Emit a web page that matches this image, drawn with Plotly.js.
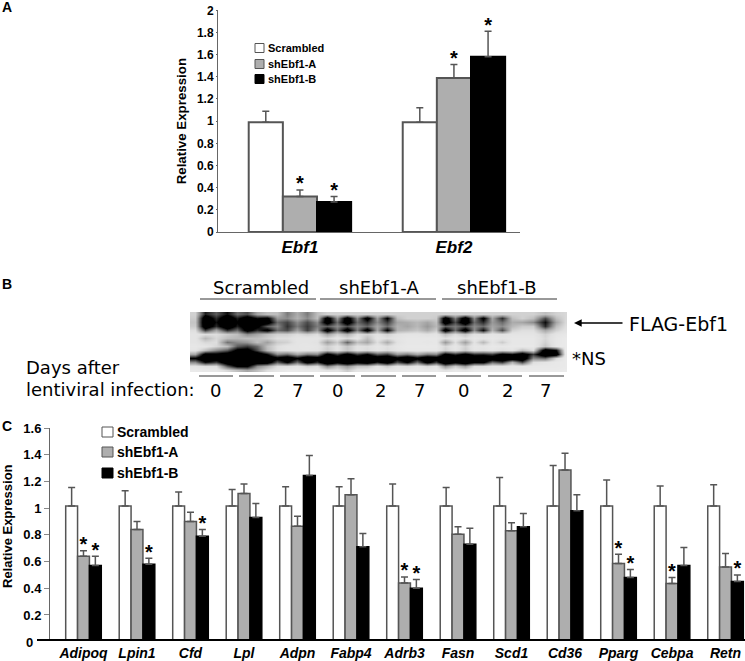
<!DOCTYPE html>
<html>
<head>
<meta charset="utf-8">
<script src="https://cdn.plot.ly/plotly-3.0.1.min.js"></script>
<style>
    html, body { margin: 0; padding: 0; background: #fff; }
    #figure { width: 745px; height: 661px; }
</style>
</head>
<body>
<div id="figure"></div>
<script>
const seriesNames = ['Scrambled', 'shEbf1-A', 'shEbf1-B'];

// Panel A: relative expression of Ebf1 and Ebf2
const genesA = ['Ebf1', 'Ebf2'];
const scrambledA = [0.99, 0.99];
const shAA = [0.32, 1.39];
const shBA = [0.27, 1.58];
const scrambledAErr = [0.10, 0.13];
const shAAErr = [0.06, 0.12];
const shBAErr = [0.05, 0.23];
const shAAStars = [0, 1];
const shBAStars = [0, 1];
const tickValsA = [0, 0.2, 0.4, 0.6, 0.8, 1, 1.2, 1.4, 1.6, 1.8, 2];

// Panel C: adipocyte genes
const genesC = ['Adipoq', 'Lpin1', 'Cfd', 'Lpl', 'Adpn', 'Fabp4', 'Adrb3',
                'Fasn', 'Scd1', 'Cd36', 'Pparg', 'Cebpa', 'Retn'];
const scrambledC = [1.015, 1.015, 1.015, 1.015, 1.015, 1.015, 1.015,
                    1.015, 1.015, 1.015, 1.015, 1.015, 1.015];
const shAC = [0.64, 0.84, 0.90, 1.11, 0.865, 1.10, 0.44,
              0.805, 0.83, 1.285, 0.585, 0.435, 0.56];
const shBC = [0.57, 0.58, 0.79, 0.93, 1.245, 0.71, 0.40,
              0.73, 0.86, 0.98, 0.48, 0.57, 0.45];
const scrambledCErr = [0.14, 0.115, 0.105, 0.125, 0.145, 0.145, 0.165,
                       0.14, 0.215, 0.305, 0.195, 0.15, 0.16];
const shACErr = [0.04, 0.06, 0.07, 0.07, 0.075, 0.12, 0.045,
                 0.055, 0.06, 0.125, 0.07, 0.045, 0.10];
const shBCErr = [0.07, 0.045, 0.05, 0.105, 0.15, 0.10, 0.065,
                 0.12, 0.10, 0.12, 0.06, 0.135, 0.05];
const shACStars = [0, 6, 10, 11];
const shBCStars = [0, 1, 2, 6, 10, 12];
const tickValsC = [0.2, 0.4, 0.6, 0.8, 1, 1.2, 1.4, 1.6];

// Panel B: the blot, read as gray levels (0 black, 255 white) down the gel
const blotGroups = ['Scrambled', 'shEbf1-A', 'shEbf1-B'];
const blotDays = ['0', '2', '7', '0', '2', '7', '0', '2', '7'];
const blotColumns = [195, 205, 216, 227, 237, 247, 257, 267, 277, 287, 297, 307, 317,
                     327, 337, 347, 357, 367, 377, 387, 397, 407, 417, 427, 436, 445,
                     455, 465, 474, 483, 492, 502, 512, 522, 533, 545, 556, 565];
const blotRows = [
    [205, 80,120, 70,130,110,170,190,190,140,175,140,190,205,205,205,205,205,205,205,205,205,205,205,205,205,205,205,205,205,205,205,205,205,205,190,205,210],
    [200, 15, 90, 15, 80, 25, 70, 50,160,150,180,150,190, 30,160, 30,150, 40,165, 60,190,205,205,205,200, 30,140, 25,150, 50,170, 90,190,205,190,110,190,210],
    [195, 10, 70, 10, 60, 15, 40, 30,130,105,150,110,150, 30,130, 25,130, 90,150,100,170,175,185,170,190, 25,110, 20,130, 90,160,130,175,170,150, 70,170,210],
    [200, 15, 90, 15, 80, 30, 50,120,150, 95,140,100,140,120,150,110,150,125,170,130,180,170,185,160,185,120,140,110,150,130,170,150,185,200,200, 90,190,215],
    [215,100,170, 90,130, 40, 90, 50,130,110,165,105,160, 35,130, 35,140, 40,170, 60,180,185,195,175,200, 35,130, 35,150, 70,180,110,205,215,215,170,205,220],
    [225,215,215,200,190,150,170,190,205,205,215,205,215,170,205,180,215,205,220,205,220,225,225,220,225,190,215,195,220,215,225,220,225,225,225,205,225,230],
    [225,185,210,190,185,190,190,200,215,215,225,225,225,210,225,210,225,190,225,215,225,230,230,230,230,215,230,215,230,225,230,225,230,230,230,210,230,235],
    [225,210,215,135,150,160,190,165,200,205,225,225,220,165,200,125,190,170,215,175,220,230,230,228,230,160,215,165,220,185,225,200,230,230,230,205,230,235],
    [230,225,210,190,120,100,130,190,215,225,225,228,225,205,220,195,220,215,228,215,228,232,232,232,232,210,228,205,228,225,232,230,232,232,232,195,232,235],
    [225,190,150,120, 50, 40,110,185,215,222,225,225,222,200,220,195,220,212,225,212,225,230,230,230,230,205,225,200,225,220,228,215,225,190,215, 25, 70,235],
    [170, 40, 50, 30,  5,  5, 20, 70,150,130,170,140,150, 50,100, 45,100, 65,120,100,160,140,170,140,150, 50, 90, 50, 90, 85,100, 50, 70, 25,100,  5, 25,230],
    [ 60,  5, 25,  5,  0,  0,  5, 10, 45, 15, 60, 10, 35,  0, 20,  0, 15,  0, 20,  5, 45, 10, 50, 10, 30,  0, 10,  0, 10,  5, 20,  0, 20,  5,150,130,210,235],
    [150, 70,100, 20,  0,  0, 30, 30,120, 60,130, 45, 90,  5, 50, 10, 50, 25, 80, 30,110, 60,130, 45,100, 10, 50, 15, 60, 55,130,100,180,110,215,225,232,235],
    [225,215,215,120, 60, 60,150,180,215,215,225,205,215,150,190,160,195,195,222,200,225,215,228,210,225,155,200,165,215,215,228,228,230,230,232,232,232,235],
    [235,232,230,210,190,170,190,215,228,235,235,232,232,220,222,200,225,228,232,228,232,235,235,232,235,220,232,225,235,235,235,235,235,235,235,235,235,238]
];

const W = 745, H = 661;
const px = x => x / W;
const py = y => 1 - y / H;

const sans = 'Liberation Sans, Arial, sans-serif';
const lucida = 'DejaVu Sans, sans-serif';
const fills = ['#ffffff', '#aeaeae', '#000000'];
const edges = ['#555555', '#555555', '#000000'];

/* One bar series, with the upward error bar only */
const barTrace = (s, x, y, err, axes, edge) => ({
    type: 'bar',
    name: seriesNames[s],
    x: x,
    y: y,
    xaxis: axes[0],
    yaxis: axes[1],
    marker: {color: fills[s], line: {color: edges[s], width: edge}},
    error_y: {
        type: 'data',
        symmetric: false,
        array: err,
        arrayminus: err.map(() => 0),
        color: '#555555',
        thickness: 1.5,
        width: 3.5
    }
});

/* Significance stars floating just over the error bars of one series */
const starTrace = (s, stars, y, err, axes, lift) => ({
    type: 'scatter',
    mode: 'text',
    hoverinfo: 'skip',
    x: stars.map(i => i + (s - 1) * 0.2217),
    y: stars.map(i => y[i] + err[i] + lift),
    text: stars.map(() => '*'),
    textposition: 'middle center',
    textfont: {family: sans, size: 20, color: '#000', weight: 'bold'},
    xaxis: axes[0],
    yaxis: axes[1]
});

const indexA = genesA.map((g, i) => i);
const indexC = genesC.map((g, i) => i);

const data = [
    barTrace(0, indexA, scrambledA, scrambledAErr, ['x', 'y'], 2),
    barTrace(1, indexA, shAA, shAAErr, ['x', 'y'], 2),
    barTrace(2, indexA, shBA, shBAErr, ['x', 'y'], 2),
    starTrace(1, shAAStars, shAA, shAAErr, ['x', 'y'], 0.04),
    starTrace(2, shBAStars, shBA, shBAErr, ['x', 'y'], 0.04),
    barTrace(0, indexC, scrambledC, scrambledCErr, ['x2', 'y2'], 1.5),
    barTrace(1, indexC, shAC, shACErr, ['x2', 'y2'], 1.5),
    barTrace(2, indexC, shBC, shBCErr, ['x2', 'y2'], 1.5),
    starTrace(1, shACStars, shAC, shACErr, ['x2', 'y2'], 0.035),
    starTrace(2, shBCStars, shBC, shBCErr, ['x2', 'y2'], 0.035),
    {
        type: 'heatmap',
        x: blotColumns,
        z: blotRows,
        xaxis: 'x3',
        yaxis: 'y3',
        zmin: 0,
        zmax: 255,
        zsmooth: 'best',
        showscale: false,
        hoverinfo: 'skip',
        // steep curve: film saturates, the bands are black with a pale background
        colorscale: [[0, '#000000'], [0.25, '#000000'], [0.6, '#909090'],
                     [0.85, '#e0e0e0'], [1, '#f4f4f4']]
    }
];

/* Plain text placed by page position */
const label = (text, x, y, size, family, extra) => Object.assign({
    text: text,
    xref: 'paper',
    yref: 'paper',
    x: px(x),
    y: py(y),
    xanchor: 'left',
    yanchor: 'middle',
    showarrow: false,
    font: {family: family, size: size, color: '#000'}
}, extra || {});

const blotGroupX = [261, 379, 497];
const blotDayX = [215, 258, 297, 337, 380, 419, 463, 507, 545];

// Key rows of the two bar panels, the key sits in a tight stack next to the bars
const keyRowsA = [48, 64, 79];
const keyRowsC = [432, 452, 473];

const annotations = [
    label('<b>A</b>', 0, 7, 14, sans),
    label('<b>B</b>', 0, 284, 14, sans),
    label('<b>C</b>', 0, 426, 14, sans),
    label('Days after', 24, 367, 18, lucida),
    label('lentiviral infection:', 24, 389, 18, lucida),
    label('FLAG-Ebf1', 627, 324, 19, lucida),
    label('*NS', 570, 358, 18, lucida),
    label('<b>Relative Expression</b>', 7, 526, 13, sans, {textangle: -90, xanchor: 'center'}),
    // the zero of panel C sits just under the thick baseline
    {
        text: '<b>0</b>',
        xref: 'paper',
        yref: 'y2',
        x: px(35),
        y: 0.02,
        yshift: -3,
        xanchor: 'right',
        yanchor: 'middle',
        showarrow: false,
        font: {family: sans, size: 13, color: '#000'}
    },
    // arrow to the FLAG-Ebf1 band
    {
        text: '',
        xref: 'paper',
        yref: 'paper',
        x: px(574),
        y: py(323),
        axref: 'paper',
        ayref: 'paper',
        ax: px(624),
        ay: py(323),
        showarrow: true,
        arrowhead: 2,
        arrowsize: 1.1,
        arrowwidth: 1.4,
        arrowcolor: '#000'
    }
].concat(
    blotGroups.map((g, i) => label(g, blotGroupX[i], 287, 18, lucida, {xanchor: 'center'})),
    blotDays.map((d, i) => label(d, blotDayX[i], 390, 18, lucida, {xanchor: 'center'})),
    seriesNames.map((n, i) => label('<b>' + n + '</b>', 266, keyRowsA[i], 11, sans)),
    seriesNames.map((n, i) => label('<b>' + n + '</b>', 115, keyRowsC[i], 14, sans))
);

const rule = (x0, x1, y) => ({
    type: 'line',
    xref: 'paper',
    yref: 'paper',
    x0: px(x0),
    x1: px(x1),
    y0: py(y),
    y1: py(y),
    line: {color: '#333', width: 1}
});

const keyBox = (s, x0, x1, yMid, half) => ({
    type: 'rect',
    xref: 'paper',
    yref: 'paper',
    x0: px(x0),
    x1: px(x1),
    y0: py(yMid + half),
    y1: py(yMid - half),
    fillcolor: fills[s],
    line: {color: edges[s], width: 1}
});

const blotGroupRules = [[200, 316], [320, 436], [442, 557]];
const blotDayRules = [[199, 233], [239, 274], [280, 314], [320, 355], [361, 396],
                      [402, 436], [446, 481], [488, 522], [529, 564]];

const shapes = blotGroupRules.map(r => rule(r[0], r[1], 299))
    .concat(blotDayRules.map(r => rule(r[0], r[1], 376)))
    .concat(keyRowsA.map((y, s) => keyBox(s, 255, 264, y, 4.5)))
    .concat(keyRowsC.map((y, s) => keyBox(s, 102, 113, y, 5)));

const layout = {
    width: W,
    height: H,
    margin: {l: 0, r: 0, t: 0, b: 0},
    paper_bgcolor: '#fff',
    plot_bgcolor: 'rgba(0,0,0,0)',
    font: {family: sans, color: '#000'},
    barmode: 'group',
    bargap: 0.335,
    bargroupgap: 0,
    annotations: annotations,
    shapes: shapes,
    showlegend: false,
    xaxis: {
        domain: [px(218), px(520)],
        range: [-0.532, 1.429],
        anchor: 'y',
        tickvals: indexA,
        ticktext: genesA,
        ticks: '',
        ticklabelstandoff: 0,
        tickfont: {family: sans, size: 17, weight: 'bold', style: 'italic'},
        showgrid: false,
        zeroline: false,
        showline: true,
        linecolor: '#666',
        linewidth: 1
    },
    yaxis: {
        domain: [py(232), py(10.3)],
        range: [0, 2],
        anchor: 'x',
        tickvals: tickValsA,
        ticktext: tickValsA.map(String),
        ticks: 'outside',
        ticklen: 1,
        tickcolor: '#666',
        tickfont: {family: sans, size: 12, weight: 'bold'},
        title: {text: 'Relative Expression', standoff: 7,
                font: {family: sans, size: 13.3, weight: 'bold'}},
        showgrid: false,
        zeroline: false,
        showline: true,
        linecolor: '#666',
        linewidth: 1
    },
    xaxis2: {
        domain: [px(37), 1],
        range: [-0.869, 12.364],
        anchor: 'y2',
        tickvals: indexC,
        ticktext: genesC,
        ticks: '',
        ticklabelstandoff: 0,
        tickfont: {family: sans, size: 14, weight: 'bold', style: 'italic'},
        showgrid: false,
        zeroline: false,
        showline: true,
        linecolor: '#000',
        linewidth: 2
    },
    yaxis2: {
        domain: [py(639), py(428)],
        range: [0.02, 1.6],
        anchor: 'free',
        position: px(49),
        tickvals: tickValsC,
        ticktext: tickValsC.map(String),
        ticks: 'outside',
        ticklen: 5,
        tickcolor: '#888',
        tickfont: {family: sans, size: 13, weight: 'bold'},
        showgrid: false,
        zeroline: false,
        showline: true,
        linecolor: '#666',
        linewidth: 1
    },
    xaxis3: {
        domain: [px(190), px(567)],
        range: [190, 567],
        anchor: 'y3',
        visible: false
    },
    yaxis3: {
        domain: [py(372), py(312)],
        range: [14.5, -0.5],
        anchor: 'x3',
        visible: false
    }
};

const config = {responsive: false, displayModeBar: false};

Plotly.newPlot('figure', data, layout, config);
</script>
</body>
</html>
